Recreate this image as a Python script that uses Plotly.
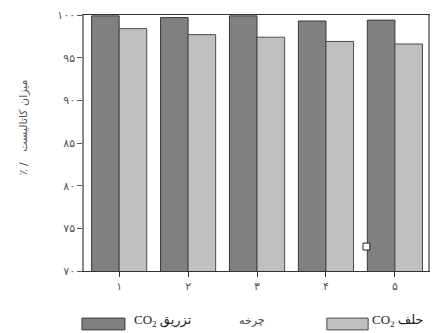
import plotly.graph_objects as go

cycles = [1, 2, 3, 4, 5]
cycle_labels = ["۱", "۲", "۳", "۴", "۵"]
injected = [99.9, 99.7, 99.9, 99.3, 99.4]
removed = [98.4, 97.7, 97.4, 96.9, 96.6]
y_ticks = [70, 75, 80, 85, 90, 95, 100]
y_tick_labels = ["۷۰", "۷۵", "۸۰", "۸۵", "۹۰", "۹۵", "۱۰۰"]

name_injected = "CO<sub>2</sub> تزریق"
name_removed = "CO<sub>2</sub> حلف"

fig = go.Figure()
fig.add_trace(go.Bar(x=cycles, y=injected, name=name_injected,
                     marker=dict(color="#808080", line=dict(color="#3a3a3a", width=1))))
fig.add_trace(go.Bar(x=cycles, y=removed, name=name_removed,
                     marker=dict(color="#c0c0c0", line=dict(color="#4a4a4a", width=1))))

tick_font = dict(family="DejaVu Sans", size=11, color="#555555")

fig.update_layout(
    template="none",
    width=439, height=333,
    margin=dict(l=84, r=11, t=15, b=62, autoexpand=False),
    paper_bgcolor="white", plot_bgcolor="white",
    barmode="group", bargap=0.2, bargroupgap=0,
    showlegend=False,
    xaxis=dict(range=[0.49, 5.48], tickvals=cycles, ticktext=cycle_labels,
               ticks="outside", ticklen=5, tickcolor="#333333", automargin=False,
               showline=True, linecolor="#333333", linewidth=1, mirror=True,
               showgrid=False, zeroline=False, tickfont=tick_font),
    yaxis=dict(range=[70, 100], tickvals=y_ticks, ticktext=y_tick_labels,
               ticks="outside", ticklen=5, tickcolor="#555555", automargin=False,
               showline=True, linecolor="#8a8a8a", linewidth=1.5, mirror=True,
               showgrid=False, zeroline=False, tickfont=tick_font),
)

# y-axis title
fig.add_annotation(text="٪ /   میزان کاتالیست", xref="paper", yref="paper",
                   x=-0.2, y=0.56, textangle=-90, showarrow=False,
                   font=dict(family="DejaVu Sans", size=11, color="#555555"))
# x-axis title
fig.add_annotation(text="چرخه", xref="paper", yref="paper",
                   x=0.488, y=-0.228, showarrow=False,
                   font=dict(family="DejaVu Sans", size=11, color="#444444"))

# custom legend
legend_font = dict(family="Liberation Serif, DejaVu Sans", size=13, color="#222222")
fig.add_shape(type="rect", xref="paper", yref="paper", x0=-0.006, x1=0.119,
              y0=-0.230, y1=-0.184, fillcolor="#808080", line=dict(color="#3a3a3a", width=1))
fig.add_annotation(text=name_injected, xref="paper", yref="paper", x=0.14, y=-0.235,
                   xanchor="left", showarrow=False, font=legend_font)
fig.add_shape(type="rect", xref="paper", yref="paper", x0=0.706, x1=0.826,
              y0=-0.230, y1=-0.184, fillcolor="#c0c0c0", line=dict(color="#4a4a4a", width=1))
fig.add_annotation(text=name_removed, xref="paper", yref="paper", x=0.832, y=-0.235,
                   xanchor="left", showarrow=False, font=legend_font)

# small stray square seen in the original figure
fig.add_shape(type="rect", xref="paper", yref="paper", x0=0.811, x1=0.831,
              y0=0.082, y1=0.109, fillcolor="white", line=dict(color="#222222", width=1))

fig.write_html("out.html", config={"displayModeBar": False},
               post_script="document.body.style.margin='0';")
